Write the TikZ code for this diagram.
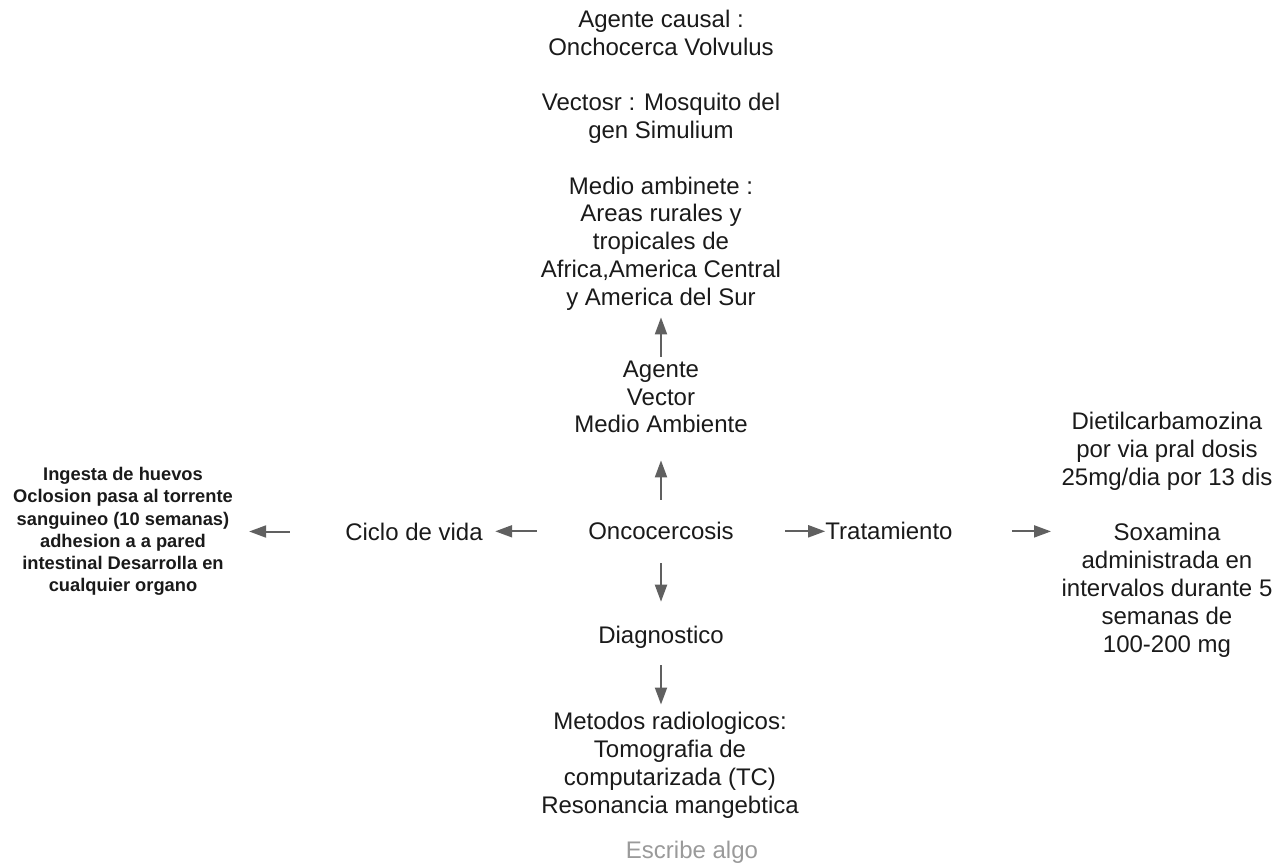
\documentclass[tikz,border=0pt]{standalone}
\usepackage{fontspec}
\setmainfont{Liberation Sans}
\usetikzlibrary{arrows.meta}
\definecolor{arrowgray}{HTML}{606060}
\definecolor{txt}{HTML}{1A1A1A}
\definecolor{hint}{HTML}{9A9A9A}
\begin{document}
\begin{tikzpicture}[x=1pt,y=-1pt,
  lbl/.style={inner sep=0pt, align=center, text=txt, font=\fontsize{24}{27.8}\selectfont},
  boldlbl/.style={inner sep=0pt, align=center, text=txt, font=\fontsize{18.3}{22.2}\selectfont\bfseries},
  hintlbl/.style={inner sep=0pt, text=hint, font=\fontsize{24}{27.8}\selectfont},
  arr/.style={draw=arrowgray, line width=2pt, -{Triangle[length=17pt,width=12pt]}}]
\useasboundingbox (0,0) rectangle (1286,863);
\node[lbl] (top) at (661,160) {Agente causal :\\Onchocerca Volvulus\\ \\Vectosr : Mosquito del\\gen Simulium\\ \\Medio ambinete :\\Areas rurales y\\tropicales de\\Africa,America Central\\y America del Sur};
\node[lbl] (agente) at (661,397) {Agente\\Vector\\Medio Ambiente};
\node[lbl] (onco) at (661,531.3) {Oncocercosis};
\node[lbl] (life) at (414,531.5) {Ciclo de vida};
\node[boldlbl] (lifetext) at (123,531.5) {Ingesta de huevos\\Oclosion pasa al torrente\\sanguineo (10 semanas)\\adhesion a a pared\\intestinal Desarrolla en\\cualquier organo};
\node[lbl] (trat) at (889,531.4) {Tratamiento};
\node[lbl] (treat) at (1167,534.7) {Dietilcarbamozina\\por via pral dosis\\25mg/dia por 13 dis\\ \\Soxamina\\administrada en\\intervalos durante 5\\semanas de\\100-200 mg};
\node[lbl] (diag) at (661,636.9) {Diagnostico};
\node[lbl] (meto) at (670,765.4) {Metodos radiologicos:\\Tomografia de\\computarizada (TC)\\Resonancia mangebtica};
\node[hintlbl] (hint) at (692,851.9) {Escribe algo};
\draw[arr, shorten <=22.3pt, shorten >=27pt] (onco) -- (agente);
\draw[arr, shorten <=3.8pt, shorten >=7pt] (agente) -- (top);
\draw[arr, shorten <=51.3pt, shorten >=12.3pt] (onco.west) -- (onco.west -| life.east);
\draw[arr, shorten <=55.3pt, shorten >=16.1pt] (life.west) -- (life.west -| lifetext.east);
\draw[arr, shorten <=51.3pt] (onco.east) -- (onco.east -| trat.west);
\draw[arr, shorten <=59pt, shorten >=10.4pt] (trat.east) -- (trat.east -| treat.west);
\draw[arr, shorten <=22.7pt, shorten >=23.8pt] (onco) -- (diag);
\draw[arr, shorten <=17pt, shorten >=7.8pt] (diag.south) -- (diag.south |- meto.north);
\end{tikzpicture}
\end{document}
